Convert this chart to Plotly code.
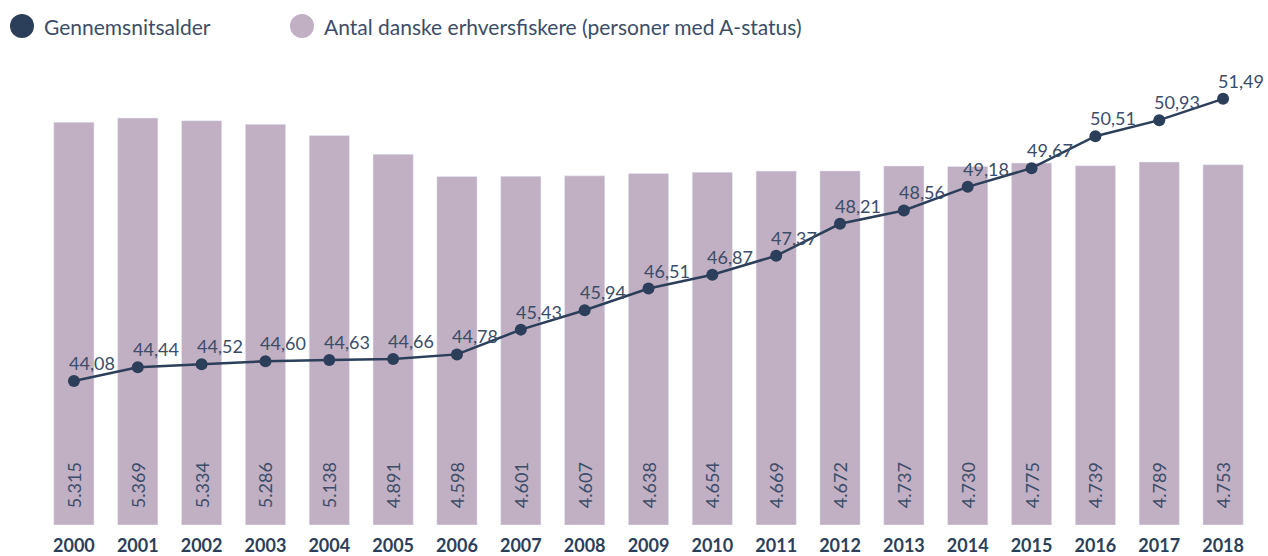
import plotly.graph_objects as go

years = [str(y) for y in range(2000, 2019)]
fishers = [5315, 5369, 5334, 5286, 5138, 4891, 4598, 4601, 4607, 4638, 4654,
           4669, 4672, 4737, 4730, 4775, 4739, 4789, 4753]
avg_age = [44.08, 44.44, 44.52, 44.60, 44.63, 44.66, 44.78, 45.43, 45.94, 46.51,
           46.87, 47.37, 48.21, 48.56, 49.18, 49.67, 50.51, 50.93, 51.49]

legend_names = ["Gennemsnitsalder", "Antal danske erhversfiskere (personer med A-status)"]

DARK = "#2c3f5a"
TEXT = "#3b4d68"
BAR = "#c1afc4"
FONT = "Lato"

xpos = list(range(len(years)))
fishers_txt = ["\u00a0\u00a0\u00a0" + f"{v:,}".replace(",", ".") for v in fishers]
age_txt = [f"{v:.2f}".replace(".", ",") for v in avg_age]

fig = go.Figure()
fig.add_trace(go.Bar(
    x=xpos, y=fishers, marker_color=BAR, width=0.63,
    text=fishers_txt, textposition="inside", insidetextanchor="start",
    textangle=-90, textfont=dict(family=FONT, size=18, color=TEXT),
    hoverinfo="skip", showlegend=False, cliponaxis=False,
))
fig.add_trace(go.Scatter(
    x=xpos, y=avg_age, yaxis="y2", mode="lines+markers",
    line=dict(color=DARK, width=2.5), marker=dict(color=DARK, size=12),
    hoverinfo="skip", showlegend=False, cliponaxis=False,
))

annotations = []
for x, y, t in zip(xpos, avg_age, age_txt):
    annotations.append(dict(
        x=x, y=y, xref="x", yref="y2", text=t, showarrow=False,
        xanchor="left", yanchor="bottom", xshift=-7, yshift=5,
        font=dict(family=FONT, size=18, color=TEXT),
    ))

W, H = 1268, 556
L, R, T, B = 42, 13, 60, 31
pw, ph = W - L - R, H - T - B

def px_x(p):
    return (p - L) / pw

def px_y(p):
    return (H - B - p) / ph

shapes = []
leg_colors = [DARK, BAR]
leg_mx = [22, 302]
for name, c, mx in zip(legend_names, leg_colors, leg_mx):
    shapes.append(dict(
        type="circle", xref="paper", yref="paper",
        xsizemode="pixel", ysizemode="pixel",
        xanchor=px_x(mx), yanchor=px_y(26),
        x0=-12, x1=12, y0=-12, y1=12,
        fillcolor=c, line=dict(width=0),
    ))
    annotations.append(dict(
        x=px_x(mx + 20), y=px_y(26), xref="paper", yref="paper",
        text=name, showarrow=False, xanchor="left", yanchor="middle",
        font=dict(family=FONT, size=21, color=TEXT),
    ))

fig.update_layout(
    width=W, height=H,
    margin=dict(l=L, r=R, t=T, b=B),
    paper_bgcolor="white", plot_bgcolor="white",
    xaxis=dict(range=[-0.5, 18.5], showgrid=False, zeroline=False, showline=False,
               tickmode="array", tickvals=xpos, ticktext=years,
               tickfont=dict(family=FONT, size=18, color=DARK, weight="bold"),
               ticks="", ticklabelstandoff=8, automargin=False, fixedrange=True),
    yaxis=dict(range=[0, 6135], visible=False, showgrid=False, fixedrange=True),
    yaxis2=dict(range=[40.30, 52.51], overlaying="y", visible=False,
                showgrid=False, fixedrange=True),
    annotations=annotations,
    shapes=shapes,
    showlegend=False,
)

fig.write_html("out.html", config={"displayModeBar": False},
               post_script="document.body.style.margin='0';")
